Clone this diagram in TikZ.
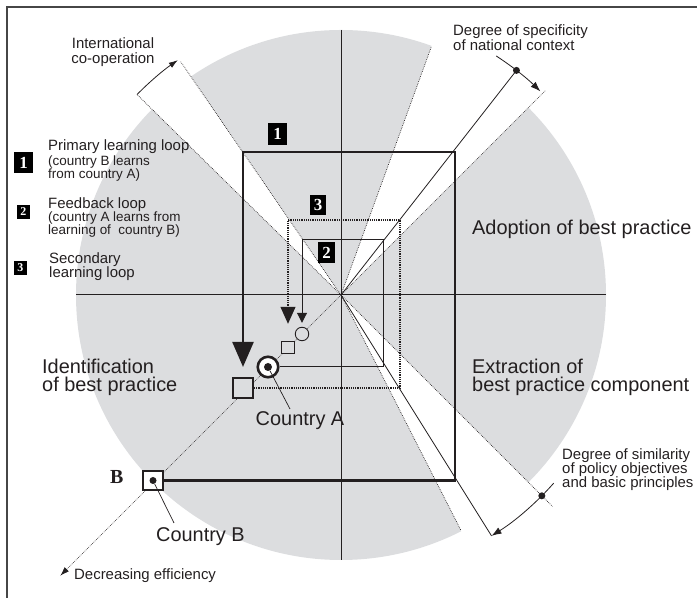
\documentclass[tikz,border=0pt]{standalone}
\usepackage{fontspec}
\setmainfont{Liberation Sans}
\newfontfamily\numfont{Liberation Serif}
\usetikzlibrary{arrows.meta}
\definecolor{disc}{RGB}{220,221,223}
\definecolor{ink}{RGB}{35,31,32}
\definecolor{rule}{RGB}{70,70,70}

\begin{document}
\begin{tikzpicture}[x=1bp,y=1bp,
  lbl/.style={inner sep=0pt, anchor=base west, text=ink},
  big/.style={lbl, font=\fontsize{20}{20}\selectfont},
  mid/.style={lbl, font=\fontsize{15}{15}\selectfont},
  small/.style={lbl, font=\fontsize{13.5}{13.5}\selectfont},
  tag/.style={fill=black, text=white, inner sep=0pt,
    font=\numfont\bfseries\fontsize{17}{17}\selectfont},
  smalltag/.style={tag, minimum width=13bp, minimum height=14bp,
    font=\numfont\bfseries\fontsize{12}{12}\selectfont},
  frame/.style={draw=rule, line width=1.2},
  axis/.style={draw=ink, line width=1},
  ray/.style={draw=ink, line width=0.8},
  dotray/.style={draw=ink, line width=0.7, dash pattern=on 0.7bp off 1.1bp},
  loopone/.style={draw=ink, line width=2.4, -{Triangle[length=25bp,width=21bp]}},
  looptwo/.style={draw=ink, line width=1, -{Triangle[length=10bp,width=10bp]}},
  loopthree/.style={draw=ink, line width=1.1, dash pattern=on 1.1bp off 1.1bp,
    -{Triangle[length=17bp,width=15bp]}},
  pointer/.style={draw=ink, line width=0.8, -{Latex[length=10bp,width=7bp]}},
  dot/.style={circle, fill=ink, inner sep=0pt, minimum size=7bp},
  lead/.style={draw=ink, line width=0.7},
]
\useasboundingbox (0,0) rectangle (697,598);

% open frame along the top and left edges
\coordinate (fTR) at (697,591);
\coordinate (fTL) at (7,591);
\coordinate (fBL) at (7,0);
\draw[frame] (fTR) -- (fTL) -- (fBL);

% grey disc with the white sectors cut out
\coordinate (C) at (341,303);
\fill[disc] (C) circle[radius=265];
\begin{scope}[shift={(C)}]
  \fill[white] (0,0) -- (124.5:270) arc[start angle=124.5,end angle=135.5,radius=270] -- cycle;
  \fill[white] (0,0) -- (45:270) arc[start angle=45,end angle=70,radius=270] -- cycle;
  \fill[white] (0,0) -- (-63:270) arc[start angle=-63,end angle=-45,radius=270] -- cycle;
  % axis ends
  \coordinate (axW) at (-265,0);
  \coordinate (axE) at (265,0);
  \coordinate (axN) at (0,265);
  \coordinate (axS) at (0,-265);
  % ray ends
  \coordinate (d45) at (45:289);
  \coordinate (d70) at (70:264);
  \coordinate (s52) at (52:285);
  \coordinate (d125) at (124.5:283);
  \coordinate (d135) at (135.5:286);
  \coordinate (d225) at (225:397);
  \coordinate (dm45) at (-45:299);
  \coordinate (dm63) at (-63:264);
  \coordinate (sm58) at (-58:284);
  \coordinate (spS) at (57:285);
  \coordinate (smS) at (-41.5:284);
  \coordinate (smD) at (-45:284);
\end{scope}

% axes
\draw[axis] (axW) -- (axE);
\draw[axis] (axN) -- (axS);

% rays from the centre
\draw[dotray] (C) -- (d45);
\draw[dotray] (C) -- (d70);
\draw[dotray] (C) -- (d125);
\draw[dotray] (C) -- (d135);
\draw[dotray] (C) -- (dm45);
\draw[dotray] (C) -- (dm63);
\draw[dotray, -{Latex[length=9bp,width=6bp]}] (C) -- (d225);
\draw[ray] (C) -- (s52);
\draw[ray] (C) -- (sm58);

% rotation and degree arrows
\draw[pointer, -{Latex[length=9bp,width=6bp]}] (d135) arc[start angle=135.5,end angle=124.8,radius=286];
\draw[pointer] (spS) arc[start angle=57,end angle=45.6,radius=285];
\node[dot] (specdot) at (s52) {};
\draw[pointer] (smS) arc[start angle=-41.5,end angle=-58,radius=284];
\node[dot] (simdot) at (smD) {};

% countries and practice markers
\node[draw=ink, line width=2.5, fill=white, minimum size=19.5bp, inner sep=0pt] (Bsq) at (153,117.5) {};
\node[dot] (Bdot) at (Bsq) {};
\node[draw=ink, line width=1.6, fill=disc, minimum size=20.5bp, inner sep=0pt] (Asq) at (243,210) {};
\node[circle, draw=ink, line width=2.6, fill=white, minimum size=20.5bp, inner sep=0pt] (Acirc) at (268,231) {};
\node[dot, minimum size=8bp] (Adot) at (Acirc) {};
\node[draw=ink, line width=0.9, fill=disc, minimum size=12.5bp, inner sep=0pt] (ssq) at (288,250.5) {};
\node[circle, draw=ink, line width=0.9, fill=disc, minimum size=13.5bp, inner sep=0pt] (scirc) at (302,264) {};

% learning loops
\coordinate (l1a) at (455,117.5);
\coordinate (l1b) at (455,446);
\coordinate (l1c) at (243,446);
\draw[loopone, shorten >=10bp] (Bsq.east) -- (l1a) -- (l1b) -- (l1c) -- (Asq.north);
\coordinate (l2a) at (383,231);
\coordinate (l2b) at (383,358);
\coordinate (l2c) at (302,358);
\draw[looptwo, shorten >=4bp] (Acirc.east) -- (l2a) -- (l2b) -- (l2c) -- (scirc.north);
\coordinate (l3a) at (400,210);
\coordinate (l3b) at (400,378);
\coordinate (l3c) at (288,378);
\draw[loopthree, shorten >=17bp] (Asq.east) -- (l3a) -- (l3b) -- (l3c) -- (ssq.north);

% loop tags in the figure
\node[tag, minimum width=19bp, minimum height=22bp] (t1) at (277.5,464) {1};
\node[tag, minimum width=17bp, minimum height=21bp] (t2) at (326.5,345.5) {2};
\node[tag, minimum width=16bp, minimum height=20bp] (t3) at (318,393) {3};

% country labels
\node[big, anchor=base] (cA) at (300,172) {Country A};
\coordinate (cAt) at (290,189);
\draw[lead] (Adot) -- (cAt);
\node[big] (cB) at (156,56.3) {Country B};
\coordinate (cBt) at (174,75);
\draw[lead] (Bdot) -- (cBt);
\node[lbl, font=\numfont\bfseries\fontsize{20}{20}\selectfont] (Blab) at (110,114.7) {B};

% quadrant captions
\node[big] (adopt) at (472,363.7) {Adoption of best practice};
\node[big] (ext1) at (472,224.7) {Extraction of};
\node[big] (ext2) at (472,206.3) {best practice component};
\node[big] (id1) at (42,224.7) {Identification};
\node[big] (id2) at (42,206.3) {of best practice};

% ray captions
\node[mid, anchor=base] (intl1) at (113,549) {International};
\node[mid, anchor=base] (intl2) at (113,534.3) {co-operation};
\node[mid] (spec1) at (453,562) {Degree of specificity};
\node[mid] (spec2) at (453,547.5) {of national context};
\node[mid] (sim1) at (562,138.7) {Degree of similarity};
\node[mid] (sim2) at (562,124.7) {of policy objectives};
\node[mid] (sim3) at (562,110.3) {and basic principles};
\node[mid] (dec) at (74,18) {Decreasing efficiency};

% legend
\node[tag, minimum width=19bp, minimum height=21bp] (k1) at (23.5,435.5) {1};
\node[mid] (k1a) at (48,447) {Primary learning loop};
\node[small] (k1b) at (48,432) {(country B learns};
\node[small] (k1c) at (48,419.5) {from country A)};
\node[smalltag] (k2) at (23.3,386) {2};
\node[mid] (k2a) at (48,389.5) {Feedback loop};
\node[small] (k2b) at (48,376) {(country A learns from};
\node[small] (k2c) at (48,363.5) {learning of\ \ country B)};
\node[smalltag] (k3) at (20.3,330) {3};
\node[mid] (k3a) at (49,334) {Secondary};
\node[mid] (k3b) at (49,320) {learning loop};
\end{tikzpicture}
\end{document}
